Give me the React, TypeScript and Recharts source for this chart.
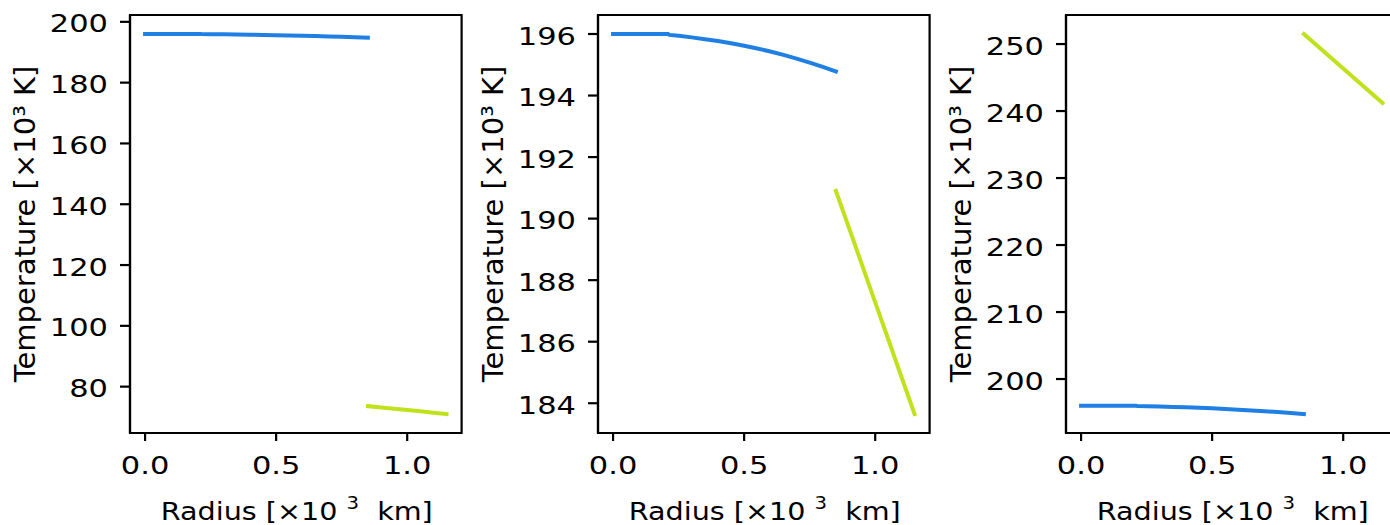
import React from 'react';
import { LineChart, Line, XAxis, YAxis, Label, ReferenceArea } from 'recharts';

// radius in 10^3 km, temperature in 10^3 K
const radiusTicks = [0, 0.5, 1.0];

const coreRadius = [0, 0.1, 0.2, 0.21, 0.215, 0.25, 0.3, 0.35, 0.4, 0.45, 0.5, 0.55, 0.6, 0.65, 0.7, 0.75, 0.8, 0.85];
const coreTemp = [196.0, 196.0, 196.0, 196.0, 195.97, 195.94, 195.89, 195.83, 195.77, 195.7, 195.62, 195.53, 195.43, 195.32, 195.2, 195.07, 194.93, 194.78];

const envRadius = [0.85, 0.9, 0.95, 1.0, 1.05, 1.1, 1.15];
const envTempA = [73.6, 73.17, 72.73, 72.3, 71.87, 71.43, 71.0];
const envTempB = [190.9, 189.7, 188.49, 187.28, 186.07, 184.86, 183.65];
const envTempC = [251.5, 249.78, 248.07, 246.35, 244.63, 242.92, 241.2];

const tempTicksA = [80, 100, 120, 140, 160, 180, 200];
const tempTicksB = [184, 186, 188, 190, 192, 194, 196];
const tempTicksC = [200, 210, 220, 230, 240, 250];

const BLUE = '#1f7fe2';
const LIME = '#c0e21c';
const FONT = '"DejaVu Sans", sans-serif';

const toPoints = (rs: number[], ts: number[]) => rs.map((r, i) => ({ r, t: ts[i] }));
const coreData = toPoints(coreRadius, coreTemp);

const padded = (vals: number[]) => {
  const lo = Math.min(...vals);
  const hi = Math.max(...vals);
  const m = (hi - lo) * 0.05;
  return [lo - m, hi + m];
};

const xDomain = padded([coreRadius[0], envRadius[envRadius.length - 1]]);

const panels = [
  { left: 0, env: envTempA, ticks: tempTicksA },
  { left: 467.7, env: envTempB, ticks: tempTicksB },
  { left: 935.7, env: envTempC, ticks: tempTicksC },
];

const XTick = (props: any) => {
  const { x, y, payload } = props;
  return (
    <g transform={`translate(${x},${y}) scale(1.22,1)`}>
      <text x={0} y={0} dy={33} textAnchor="middle" fontSize={25} fontFamily={FONT} fill="#000">
        {Number(payload.value).toFixed(1)}
      </text>
    </g>
  );
};

const YTick = (props: any) => {
  const { x, y, payload } = props;
  return (
    <g transform={`translate(${x},${y}) scale(1.22,1)`}>
      <text x={0} y={0} dy={10.5} textAnchor="end" fontSize={25} fontFamily={FONT} fill="#000">
        {payload.value}
      </text>
    </g>
  );
};

const XTitle = (props: any) => {
  const vb = props.viewBox;
  return (
    <text
      x={vb.x + vb.width / 2 + 1}
      y={520}
      textAnchor="middle"
      fontSize={25.5}
      fontFamily={FONT}
      fill="#000"
      textLength={272}
      lengthAdjust="spacingAndGlyphs"
      style={{ whiteSpace: 'pre' }}
    >
      {'Radius [×10 '}
      <tspan fontSize={17.5} dy={-11}>3</tspan>
      <tspan dy={11}>{'  km]'}</tspan>
    </text>
  );
};

const YTitle = (props: any) => {
  const vb = props.viewBox;
  const cx = vb.x + vb.width - 95;
  const cy = vb.y + vb.height / 2;
  return (
    <text
      x={cx}
      y={cy}
      transform={`rotate(-90 ${cx} ${cy})`}
      textAnchor="middle"
      fontSize={29}
      fontFamily={FONT}
      fill="#000"
    >
      Temperature [×10³ K]
    </text>
  );
};

const Panel = ({ env, ticks }: { env: number[]; ticks: number[] }) => {
  const envData = toPoints(envRadius, env);
  const yDomain = padded([...coreTemp, ...env]);
  return (
    <LineChart width={470} height={525} margin={{ top: 15, right: 8.4, bottom: 0, left: 0 }}>
      <XAxis
        type="number"
        dataKey="r"
        domain={xDomain}
        ticks={radiusTicks}
        allowDataOverflow
        height={92}
        tickSize={8}
        tickMargin={0}
        tick={<XTick />}
        axisLine={{ stroke: '#000', strokeWidth: 2.2 }}
        tickLine={{ stroke: '#000', strokeWidth: 2.2 }}
      >
        <Label content={<XTitle />} />
      </XAxis>
      <YAxis
        type="number"
        dataKey="t"
        domain={yDomain}
        ticks={ticks}
        allowDataOverflow
        width={130}
        tickSize={10}
        tickMargin={12}
        tick={<YTick />}
        axisLine={{ stroke: '#000', strokeWidth: 2.2 }}
        tickLine={{ stroke: '#000', strokeWidth: 2.2 }}
      >
        <Label content={<YTitle />} />
      </YAxis>
      <ReferenceArea
        x1={xDomain[0]}
        x2={xDomain[1]}
        y1={yDomain[0]}
        y2={yDomain[1]}
        fill="none"
        fillOpacity={0}
        stroke="#000"
        strokeWidth={2.2}
        ifOverflow="visible"
      />
      <Line
        data={coreData}
        dataKey="t"
        type="linear"
        stroke={BLUE}
        strokeWidth={4}
        strokeLinecap="square"
        dot={false}
        activeDot={false}
        isAnimationActive={false}
      />
      <Line
        data={envData}
        dataKey="t"
        type="linear"
        stroke={LIME}
        strokeWidth={4}
        strokeLinecap="square"
        dot={false}
        activeDot={false}
        isAnimationActive={false}
      />
    </LineChart>
  );
};

export default function App() {
  return (
    <div
      style={{
        position: 'absolute',
        left: 0,
        top: 0,
        width: 1390,
        height: 525,
        overflow: 'hidden',
        background: '#fff',
      }}
    >
      {panels.map((p, i) => (
        <div key={i} style={{ position: 'absolute', left: p.left, top: 0 }}>
          <Panel env={p.env} ticks={p.ticks} />
        </div>
      ))}
    </div>
  );
}
